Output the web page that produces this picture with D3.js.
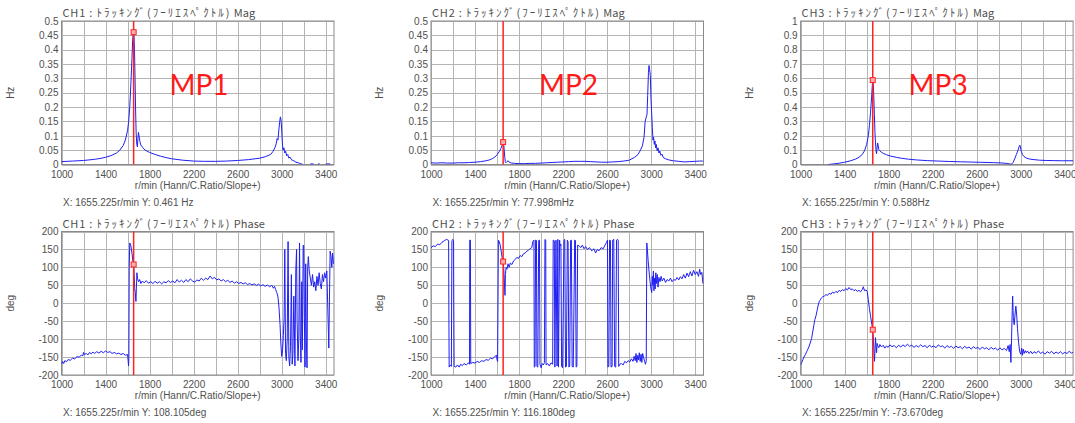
<!DOCTYPE html>
<html><head><meta charset="utf-8">
<script src="https://cdn.jsdelivr.net/npm/d3@7"></script>
<style>
html,body{margin:0;padding:0;background:#fff;}
svg{display:block;}
.grid line{stroke:#b4b4b4;stroke-width:1;shape-rendering:crispEdges}
.grid path{display:none}
.tick text{fill:#505050;font-family:"Liberation Sans",Arial,sans-serif;font-size:10px}
.lbl{fill:#505050;font-family:"Liberation Sans",Arial,sans-serif;font-size:10px}
.ttl{fill:#505050;font-family:"Noto Sans CJK JP",sans-serif;font-size:11px}
.mp{fill:#ff1a1a;font-family:Lato,"Noto Sans",sans-serif;font-size:28px}
</style></head><body><svg id="chart" width="1075" height="423"></svg>
<script>
/* ===== Data ===== */
const rpmDomain = [1000, 3475];
const gridRpm = [1000,1200,1400,1600,1800,2000,2200,2400,2600,2800,3000,3200,3400];
const labelRpm = [1000,1400,1800,2200,2600,3000,3400];
const magTicks05 = [0,0.05,0.1,0.15,0.2,0.25,0.3,0.35,0.4,0.45,0.5];
const magTicks1 = [0,0.1,0.2,0.3,0.4,0.5,0.6,0.7,0.8,0.9,1];
const phaseTicks = [-200,-150,-100,-50,0,50,100,150,200];
const cursorRpm = 1655.225;
const cursorVals = [0.461, 108.105, 0.078, 116.180, 0.588, -73.670];
const channels = ['CH1','CH2','CH3'];
const mpLabels = ['MP1','MP2','MP3'];
const titleKana = 'ﾄﾗｯｷﾝｸﾞ(ﾌｰﾘｴｽﾍﾟｸﾄﾙ)';
const readouts = [
  'X: 1655.225r/min Y: 0.461 Hz', 'X: 1655.225r/min Y: 108.105deg',
  'X: 1655.225r/min Y: 77.998mHz', 'X: 1655.225r/min Y: 116.180deg',
  'X: 1655.225r/min Y: 0.588Hz', 'X: 1655.225r/min Y: -73.670deg'];

const mp1Mag = [[1000,0.010],[1050,0.011],[1100,0.012],[1150,0.013],[1200,0.014],[1250,0.016],[1300,0.018],[1350,0.021],[1400,0.025],[1450,0.031],[1500,0.040],[1530,0.050],[1560,0.066],[1580,0.085],[1600,0.118],[1610,0.150],[1620,0.200],[1630,0.280],[1640,0.370],[1646,0.430],[1652,0.461],[1658,0.450],[1663,0.400],[1668,0.300],[1673,0.190],[1678,0.110],[1684,0.070],[1689,0.062],[1694,0.090],[1699,0.112],[1704,0.100],[1712,0.080],[1720,0.068],[1740,0.058],[1760,0.050],[1800,0.042],[1850,0.035],[1900,0.029],[1950,0.024],[2000,0.020],[2100,0.015],[2200,0.012],[2300,0.011],[2400,0.011],[2500,0.012],[2600,0.014],[2700,0.017],[2800,0.022],[2850,0.027],[2900,0.035],[2920,0.045],[2940,0.060],[2950,0.072],[2958,0.090],[2966,0.085],[2974,0.120],[2982,0.150],[2988,0.166],[2994,0.155],[3000,0.120],[3006,0.075],[3012,0.050],[3020,0.058],[3028,0.040],[3036,0.046],[3045,0.030],[3055,0.035],[3065,0.022],[3075,0.026],[3090,0.016],[3110,0.013],[3130,0.008],[3150,0.006],[3170,0.003],[3190,0.001],[3200,null],[3260,0.002],[3290,0.002],[3300,null],[3330,0.002],[3345,0.002],[3350,null],[3400,0.002],[3440,0.002]];

const mp1Phase = [[1000,-170],[1010,-162],[1020,-168],[1030,-160],[1045,-163],[1060,-157],[1080,-159],[1100,-153],[1120,-155],[1140,-149],[1160,-150],[1180,-145],[1195,-146],[1200,-137],[1210,-143],[1225,-140],[1240,-144],[1255,-137],[1270,-141],[1285,-136],[1300,-140],[1320,-135],[1340,-139],[1360,-134],[1380,-138],[1400,-133],[1420,-137],[1440,-135],[1460,-140],[1480,-137],[1500,-141],[1520,-139],[1540,-143],[1560,-140],[1580,-145],[1600,-143],[1605,-160],[1609,-175],[1612,-150],[1615,100],[1620,168],[1630,160],[1640,140],[1648,118],[1655,108],[1660,80],[1665,40],[1670,30],[1676,5],[1680,40],[1685,85],[1690,70],[1700,60],[1710,66],[1720,55],[1735,62],[1750,57],[1770,63],[1790,56],[1810,60],[1830,55],[1850,61],[1870,56],[1890,60],[1910,54],[1930,60],[1950,57],[1970,63],[1990,58],[2010,62],[2030,57],[2050,66],[2070,59],[2090,64],[2110,58],[2130,66],[2150,60],[2170,68],[2190,62],[2210,59],[2230,65],[2250,62],[2270,70],[2290,64],[2310,70],[2330,66],[2350,76],[2370,68],[2390,72],[2410,65],[2430,68],[2450,62],[2470,66],[2490,60],[2510,64],[2530,58],[2550,62],[2570,56],[2590,60],[2610,55],[2630,58],[2650,54],[2670,57],[2690,52],[2710,55],[2730,51],[2750,54],[2770,50],[2790,53],[2810,48],[2830,52],[2850,47],[2870,51],[2890,46],[2910,50],[2925,42],[2935,47],[2945,38],[2955,30],[2965,20],[2975,-10],[2985,-60],[2992,-110],[3000,-148],[3008,-130],[3015,-90],[3022,-40],[3028,150],[3035,-140],[3042,-160],[3050,-100],[3058,172],[3065,-150],[3072,-175],[3080,-120],[3088,80],[3095,-170],[3102,-140],[3110,20],[3115,-60],[3120,-175],[3128,90],[3135,150],[3140,-50],[3148,-160],[3155,-100],[3162,168],[3168,-80],[3175,-165],[3182,60],[3188,-130],[3195,162],[3200,160],[3206,-40],[3212,-178],[3218,110],[3224,-100],[3230,-180],[3236,100],[3242,130],[3250,90],[3260,70],[3270,50],[3280,80],[3290,45],[3300,60],[3310,35],[3320,75],[3330,50],[3340,85],[3350,55],[3360,40],[3370,80],[3380,60],[3390,85],[3400,70],[3410,90],[3420,-30],[3428,-125],[3434,20],[3440,145],[3448,130],[3455,100],[3462,140],[3470,110]];

const mp2Mag = [[1000,0.006],[1050,0.005],[1100,0.006],[1150,0.005],[1200,0.005],[1250,0.006],[1300,0.006],[1350,0.007],[1400,0.008],[1450,0.010],[1500,0.013],[1530,0.016],[1560,0.021],[1580,0.026],[1600,0.034],[1620,0.045],[1635,0.056],[1645,0.066],[1652,0.075],[1656,0.078],[1660,0.072],[1665,0.050],[1670,0.025],[1675,0.010],[1680,0.006],[1690,0.010],[1700,0.013],[1710,0.008],[1730,0.005],[1760,0.004],[1800,0.003],[1850,0.003],[1900,0.004],[1950,0.004],[2000,0.005],[2050,0.006],[2100,0.007],[2150,0.008],[2200,0.009],[2250,0.010],[2300,0.011],[2350,0.011],[2400,0.011],[2450,0.010],[2500,0.009],[2550,0.008],[2600,0.008],[2650,0.009],[2700,0.010],[2750,0.012],[2800,0.015],[2850,0.025],[2880,0.035],[2900,0.048],[2920,0.065],[2935,0.095],[2945,0.150],[2955,0.165],[2962,0.175],[2968,0.240],[2975,0.320],[2980,0.345],[2986,0.330],[2992,0.310],[2998,0.230],[3004,0.180],[3010,0.130],[3016,0.085],[3022,0.095],[3028,0.070],[3034,0.082],[3040,0.058],[3046,0.070],[3054,0.048],[3062,0.058],[3070,0.040],[3078,0.047],[3088,0.032],[3098,0.036],[3110,0.024],[3130,0.020],[3160,0.016],[3200,0.013],[3250,0.011],[3300,0.009],[3350,0.010],[3400,0.011],[3440,0.012],[3470,0.012]];

const mp2Phase = [[1000,155],[1020,160],[1040,158],[1060,165],[1080,163],[1100,170],[1120,174],[1140,178],[1155,176],[1160,175],[1162,0],[1165,-178],[1175,-172],[1185,-176],[1190,175],[1200,178],[1205,174],[1207,0],[1210,-176],[1225,-178],[1240,-172],[1255,-178],[1270,-170],[1285,-174],[1300,-168],[1320,-172],[1340,-166],[1350,-170],[1352,176],[1358,176],[1361,-168],[1380,-165],[1400,-167],[1420,-162],[1440,-165],[1460,-160],[1480,-162],[1500,-157],[1520,-159],[1540,-153],[1560,-155],[1580,-148],[1595,-145],[1600,-158],[1605,-162],[1612,176],[1620,172],[1630,160],[1640,140],[1650,118],[1655,116],[1660,100],[1665,70],[1672,22],[1676,80],[1682,100],[1690,95],[1700,110],[1710,100],[1720,112],[1735,108],[1750,118],[1765,122],[1780,128],[1795,125],[1810,133],[1825,130],[1840,138],[1855,140],[1870,145],[1885,148],[1900,152],[1915,155],[1925,172],[1935,176],[1938,-178],[1945,-176],[1950,176],[1958,175],[1962,-176],[1970,-178],[1978,175],[1985,176],[1990,-170],[2000,-180],[2010,-168],[2020,-172],[2030,-166],[2035,178],[2042,176],[2045,-172],[2060,-168],[2075,-175],[2090,-166],[2105,-170],[2110,176],[2120,174],[2125,-178],[2135,176],[2145,-175],[2152,178],[2158,-178],[2168,176],[2172,160],[2180,165],[2186,-176],[2195,-180],[2208,176],[2215,178],[2222,-178],[2230,-176],[2238,176],[2245,172],[2252,-178],[2260,-175],[2268,175],[2275,176],[2282,-176],[2292,-178],[2305,176],[2312,175],[2318,-178],[2325,-176],[2332,162],[2345,160],[2360,155],[2375,162],[2390,152],[2405,158],[2420,150],[2440,155],[2460,146],[2480,152],[2495,140],[2510,150],[2525,146],[2545,155],[2565,152],[2580,162],[2595,170],[2603,176],[2607,-178],[2615,-176],[2622,176],[2630,175],[2635,-178],[2645,-176],[2650,176],[2660,178],[2664,0],[2668,-176],[2678,-178],[2685,176],[2695,178],[2700,176],[2705,-176],[2715,-170],[2730,-168],[2745,-172],[2760,-162],[2775,-166],[2790,-160],[2805,-164],[2820,-155],[2835,-162],[2845,-148],[2855,-160],[2862,-140],[2870,-165],[2878,-145],[2885,-158],[2892,-138],[2900,-162],[2908,-142],[2915,-165],[2922,-140],[2930,-150],[2940,-162],[2948,-170],[2955,-160],[2960,168],[2965,150],[2972,120],[2980,90],[2990,60],[2998,40],[3005,30],[3010,75],[3015,50],[3020,90],[3025,35],[3030,70],[3036,40],[3042,85],[3048,55],[3055,80],[3062,45],[3070,72],[3080,60],[3090,75],[3100,62],[3115,70],[3130,58],[3145,66],[3160,62],[3175,70],[3190,60],[3205,66],[3220,64],[3235,72],[3250,65],[3265,74],[3280,68],[3295,80],[3310,70],[3325,84],[3340,74],[3355,88],[3370,76],[3385,92],[3400,80],[3415,88],[3430,75],[3440,95],[3450,80],[3460,86],[3470,55]];

const mp3Mag = [[1250,0.000],[1300,0.004],[1350,0.009],[1400,0.016],[1450,0.025],[1500,0.038],[1530,0.050],[1560,0.070],[1580,0.095],[1600,0.140],[1615,0.200],[1625,0.270],[1635,0.360],[1645,0.470],[1652,0.560],[1656,0.588],[1660,0.560],[1665,0.470],[1670,0.350],[1675,0.230],[1680,0.150],[1686,0.090],[1690,0.075],[1695,0.120],[1700,0.150],[1705,0.130],[1710,0.105],[1720,0.095],[1735,0.085],[1750,0.078],[1780,0.068],[1820,0.058],[1870,0.050],[1920,0.043],[1980,0.037],[2050,0.032],[2150,0.027],[2250,0.024],[2350,0.021],[2450,0.019],[2550,0.017],[2650,0.015],[2750,0.013],[2820,0.011],[2870,0.008],[2900,0.004],[2915,0.002],[2930,0.015],[2945,0.040],[2960,0.070],[2975,0.100],[2985,0.125],[2992,0.135],[2998,0.115],[3005,0.090],[3015,0.070],[3030,0.055],[3050,0.045],[3080,0.038],[3120,0.034],[3170,0.030],[3230,0.028],[3300,0.027],[3380,0.026],[3475,0.026]];

const mp3Phase = [[1000,-172],[1010,-165],[1020,-158],[1030,-150],[1045,-142],[1060,-132],[1075,-122],[1090,-108],[1100,-98],[1110,-80],[1120,-62],[1130,-45],[1140,-35],[1150,-20],[1160,-5],[1170,5],[1180,10],[1190,15],[1200,18],[1215,20],[1230,24],[1245,22],[1260,28],[1275,25],[1290,31],[1305,28],[1320,33],[1335,30],[1350,36],[1365,33],[1380,38],[1395,35],[1410,41],[1425,37],[1440,44],[1455,38],[1470,40],[1485,35],[1500,38],[1515,33],[1530,36],[1545,32],[1560,38],[1570,46],[1580,35],[1595,37],[1605,33],[1615,10],[1625,-15],[1635,-35],[1645,-55],[1655,-74],[1662,-105],[1667,-140],[1671,-162],[1676,-130],[1680,-96],[1684,-115],[1690,-138],[1695,-112],[1700,-118],[1710,-124],[1720,-115],[1735,-122],[1750,-117],[1765,-125],[1780,-119],[1795,-123],[1810,-116],[1830,-121],[1850,-118],[1870,-124],[1890,-117],[1910,-122],[1930,-116],[1950,-121],[1970,-114],[1990,-120],[2010,-117],[2030,-123],[2050,-118],[2070,-122],[2090,-116],[2110,-121],[2130,-118],[2150,-124],[2170,-117],[2190,-122],[2210,-119],[2230,-124],[2250,-116],[2270,-121],[2290,-119],[2310,-125],[2330,-118],[2350,-123],[2370,-120],[2390,-126],[2410,-119],[2430,-124],[2450,-121],[2470,-127],[2490,-120],[2510,-125],[2530,-122],[2550,-128],[2570,-121],[2590,-126],[2610,-123],[2630,-129],[2650,-122],[2670,-127],[2690,-124],[2710,-130],[2730,-123],[2750,-128],[2770,-125],[2790,-131],[2810,-124],[2830,-130],[2850,-126],[2870,-132],[2885,-118],[2895,-135],[2903,-115],[2910,-165],[2916,-100],[2922,-20],[2926,20],[2932,-40],[2940,-60],[2948,-30],[2955,-8],[2962,-30],[2970,-70],[2980,-110],[2990,-135],[3000,-142],[3008,-125],[3015,-145],[3022,-128],[3030,-140],[3040,-132],[3050,-138],[3060,-133],[3075,-140],[3090,-134],[3105,-141],[3120,-135],[3140,-139],[3160,-133],[3180,-140],[3200,-136],[3220,-142],[3240,-135],[3260,-139],[3280,-134],[3300,-141],[3320,-136],[3340,-140],[3360,-135],[3380,-141],[3400,-137],[3420,-140],[3440,-134],[3460,-139],[3475,-137]];

/* ===== Layout ===== */
const svg = d3.select('#chart');
const colX = [61.5, 431, 800.6], rowY = [21, 231.5], pw = 272.5, ph = 143.5;
const fmtTick = d => String(+(+d).toFixed(2));

const panels = [
  {col:0,row:0,kind:'Mag',unit:'Hz',yDomain:[0,0.5],yTicks:magTicks05,data:mp1Mag},
  {col:0,row:1,kind:'Phase',unit:'deg',yDomain:[-200,200],yTicks:phaseTicks,data:mp1Phase},
  {col:1,row:0,kind:'Mag',unit:'Hz',yDomain:[0,0.5],yTicks:magTicks05,data:mp2Mag},
  {col:1,row:1,kind:'Phase',unit:'deg',yDomain:[-200,200],yTicks:phaseTicks,data:mp2Phase},
  {col:2,row:0,kind:'Mag',unit:'Hz',yDomain:[0,1],yTicks:magTicks1,data:mp3Mag},
  {col:2,row:1,kind:'Phase',unit:'deg',yDomain:[-200,200],yTicks:phaseTicks,data:mp3Phase}
];

function drawPanel(p, i){
  const left = colX[p.col], top = rowY[p.row];
  const x = d3.scaleLinear().domain(rpmDomain).range([left, left+pw]);
  const y = d3.scaleLinear().domain(p.yDomain).range([top+ph, top]);
  const g = svg.append('g');

  // grid
  g.append('g').attr('class','grid').attr('transform',`translate(0,${top+ph})`)
    .call(d3.axisBottom(x).tickValues(gridRpm).tickSize(-ph).tickFormat(''));
  g.append('g').attr('class','grid').attr('transform',`translate(${left},0)`)
    .call(d3.axisLeft(y).tickValues(p.yTicks).tickSize(-pw).tickFormat(''));
  g.append('rect').attr('x',left).attr('y',top).attr('width',pw).attr('height',ph)
    .attr('fill','none').attr('stroke','#8a8a8a').attr('stroke-width',1);

  // tick labels
  const xa = g.append('g').attr('transform',`translate(0,${top+ph})`)
    .call(d3.axisBottom(x).tickValues(labelRpm).tickSize(0).tickPadding(6).tickFormat(d3.format('d')));
  xa.select('.domain').remove();
  const ya = g.append('g').attr('transform',`translate(${left},0)`)
    .call(d3.axisLeft(y).tickValues(p.yTicks).tickSize(0).tickPadding(3).tickFormat(fmtTick));
  ya.select('.domain').remove();

  // clip + curve
  const cid = 'clip'+i;
  svg.append('clipPath').attr('id',cid).append('rect')
    .attr('x',left).attr('y',top).attr('width',pw).attr('height',ph);
  const line = d3.line().defined(d=>d[1]!==null).x(d=>x(d[0])).y(d=>y(d[1]));
  g.append('path').attr('clip-path',`url(#${cid})`).attr('d',line(p.data))
    .attr('fill','none').attr('stroke','#1f1ff2').attr('stroke-width',1).attr('stroke-linejoin','round');

  // cursor
  const cx = x(cursorRpm);
  g.append('line').attr('x1',cx).attr('x2',cx).attr('y1',top).attr('y2',top+ph)
    .attr('stroke','#ff2020').attr('stroke-width',1.5);
  g.append('rect').attr('x',cx-2.5).attr('y',y(cursorVals[i])-2.5).attr('width',5).attr('height',5)
    .attr('fill','#f4b0b0').attr('stroke','#ff2020').attr('stroke-width',1);

  // texts
  const t = g.append('text').attr('class','ttl').attr('x',left+1).attr('y',top-4);
  t.append('tspan').attr('letter-spacing','0.8px').text(`${channels[p.col]} : `);
  t.append('tspan').attr('letter-spacing','2px').text(titleKana);
  t.append('tspan').text(` ${p.kind}`);
  g.append('text').attr('class','lbl').attr('x',left+pw/2).attr('y',top+ph+24)
    .attr('text-anchor','middle').text('r/min (Hann/C.Ratio/Slope+)');
  g.append('text').attr('class','lbl').attr('x',left+1.5).attr('y',top+ph+41)
    .text(readouts[i]);
  g.append('text').attr('class','lbl').attr('text-anchor','middle')
    .attr('transform',`translate(${left-48},${top+ph/2}) rotate(-90)`).text(p.unit);
  if(p.row===0){
    g.append('text').attr('class','mp').attr('x',left+108).attr('y',top+74).text(mpLabels[p.col]);
  }
}

panels.forEach(drawPanel);
</script>
</body></html>
